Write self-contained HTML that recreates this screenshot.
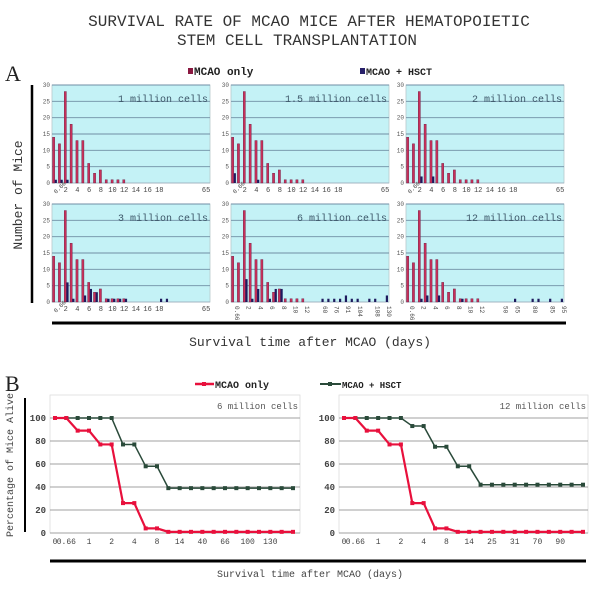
<!DOCTYPE html>
<html><head><meta charset="utf-8">
<style>
body{margin:0;background:#fff;}
svg{display:block;font-family:"Liberation Mono",monospace;}
</style></head>
<body>
<svg id="fig" width="602" height="589" viewBox="0 0 602 589">
<text x="309" y="26" text-anchor="middle" font-size="16" fill="#333">SURVIVAL RATE OF MCAO MICE AFTER HEMATOPOIETIC</text>
<text x="297" y="45" text-anchor="middle" font-size="16" fill="#333">STEM CELL TRANSPLANTATION</text>
<text x="5" y="81" font-size="22" font-family="Liberation Serif,serif" fill="#222">A</text>
<g><rect x="188" y="68" width="5" height="6" fill="#8a1840"/><text x="194" y="75" font-size="11" font-weight="bold" fill="#222">MCAO only</text></g>
<g><rect x="360" y="68" width="5" height="6" fill="#28206a"/><text x="366" y="75" font-size="10" font-weight="bold" fill="#222">MCAO + HSCT</text></g>
<line x1="32" y1="85" x2="32" y2="303" stroke="#000" stroke-width="2.5"/>
<text transform="translate(22,195) rotate(-90)" text-anchor="middle" font-size="13" fill="#333">Number of Mice</text>
<line x1="52" y1="323" x2="566" y2="323" stroke="#000" stroke-width="3"/>
<text x="310" y="346" text-anchor="middle" font-size="13" fill="#333">Survival time after MCAO (days)</text>
<g id="panelsA"></g>

<text x="5" y="391" font-size="22" font-family="Liberation Serif,serif" fill="#222">B</text>
<g><line x1="195" y1="384" x2="214" y2="384" stroke="#e8103c" stroke-width="2.5"/><rect x="202" y="382" width="4" height="4" fill="#e8103c"/><text x="215" y="388" font-size="10" font-weight="bold" fill="#222">MCAO only</text></g>
<g><line x1="320" y1="384" x2="341" y2="384" stroke="#2a4a3a" stroke-width="2"/><rect x="328" y="382" width="4" height="4" fill="#2a4a3a"/><text x="342" y="388" font-size="9" font-weight="bold" fill="#222">MCAO + HSCT</text></g>
<line x1="25" y1="398" x2="25" y2="532" stroke="#000" stroke-width="2"/>
<text transform="translate(13,465) rotate(-90)" text-anchor="middle" font-size="10" fill="#444">Percentage of Mice Alive</text>
<line x1="50" y1="561" x2="586" y2="561" stroke="#000" stroke-width="3"/>
<text x="310" y="577" text-anchor="middle" font-size="10" fill="#444">Survival time after MCAO (days)</text>
<g id="panelsB"></g>
</svg>
<script>
// ---- Panel A data (27 slots each) ----
const mcaoOnly = [14,12,28,18,13,13,6,3,4,1,1,1,1,0,0,0,0,0,0,0,0,0,0,0,0,0,0];
const hsct1M   = [1,1,1,0,0,0,0,0,0,0,0,0,0,0,0,0,0,0,0,0,0,0,0,0,0,0,0];
const hsct15M  = [3,0,0,0,1,0,0,0,0,0,0,0,0,0,0,0,0,0,0,0,0,0,0,0,0,0,0];
const hsct2M   = [0,0,2,0,2,0,0,0,0,0,0,0,0,0,0,0,0,0,0,0,0,0,0,0,0,0,0];
const hsct3M   = [0,0,6,1,0,2,4,3,0,1,1,1,1,0,0,0,0,0,1,1,0,0,0,0,0,0,0];
const red6M    = [14,12,28,18,13,13,6,3,4,1,1,1,1,0,0,0,0,0,0,0,0,0,0,0,0,0,0];
const hsct6M   = [0,0,7,1,4,0,1,4,4,0,0,0,0,0,0,1,1,1,1,2,1,1,0,1,1,0,2];
const hsct12M  = [0,0,1,2,0,2,0,0,0,1,0,0,0,0,0,0,0,0,1,0,0,1,1,0,1,0,1];
const labelsShort = ["0.66","","2","","4","","6","","8","","10","","12","","14","","16","","18","","","","","","","","65"];
const labels6M  = ["0.66","","2","","4","","6","","8","","10","","12","","","60","","76","","91","","104","","","108","","130"];
const labels12M = ["0.66","","2","","4","","6","","8","","10","","12","","","","50","","65","","","80","","","85","","95"];
const yTicksA = [0,5,10,15,20,25,30];
const panelNames = ["1 million cells","1.5 million cells","2 million cells","3 million cells","6 million cells","12 million cells"];

// ---- Panel B data (22 slots) ----
const bLabelsLeft  = ["0","0.66","","1","","2","","4","","8","","14","","40","","66","","100","","130","",""];
const bLabelsRight = ["0","0.66","","1","","2","","4","","8","","14","","25","","31","","70","","90","",""];
const red6Mcurve   = [100,100,89,89,77,77,26,26,4,4,1,1,1,1,1,1,1,1,1,1,1,1];
const green6Mcurve = [100,100,100,100,100,100,77,77,58,58,39,39,39,39,39,39,39,39,39,39,39,39];
const red12Mcurve  = [100,100,89,89,77,77,26,26,4,4,1,1,1,1,1,1,1,1,1,1,1,1];
const green12Mcurve= [100,100,100,100,100,100,93,93,75,75,58,58,42,42,42,42,42,42,42,42,42,42];
const yTicksB = [0,20,40,60,80,100];

const NS="http://www.w3.org/2000/svg";
function mk(tag,attrs,parent){const e=document.createElementNS(NS,tag);for(const k in attrs)e.setAttribute(k,attrs[k]);parent.appendChild(e);return e;}

const panelsA=[
 {x:52,y:85,red:mcaoOnly,blue:hsct1M,labels:labelsShort,rot:false},
 {x:231,y:85,red:mcaoOnly,blue:hsct15M,labels:labelsShort,rot:false},
 {x:406,y:85,red:mcaoOnly,blue:hsct2M,labels:labelsShort,rot:false},
 {x:52,y:204,red:mcaoOnly,blue:hsct3M,labels:labelsShort,rot:false},
 {x:231,y:204,red:red6M,blue:hsct6M,labels:labels6M,rot:true},
 {x:406,y:204,red:mcaoOnly,blue:hsct12M,labels:labels12M,rot:true}
];
const gA=document.getElementById('panelsA');
panelsA.forEach((p,pi)=>{
  const W=158,H=98;
  const g=mk('g',{},gA);
  
  
  const bg=mk('rect',{x:p.x,y:p.y,width:W,height:H,fill:'#c4f2f6',stroke:'#b8c8cc','stroke-width':0.8},g);
  
  
  const yS=v=>p.y+H-v/30*H;
  const xS=i=>p.x+2+i*5.85;
  yTicksA.forEach(t=>{
    if(t>0){const l=mk('line',{x1:p.x,x2:p.x+W,y1:yS(t),y2:yS(t),stroke:'#6f8ea4','stroke-width':0.9},g);
    
    }
    const tx=mk('text',{x:p.x-2,y:yS(t)+2,'text-anchor':'end','font-size':6,fill:'#555'},g);
    tx.textContent=t;
    
    
  });
  mk('line',{x1:p.x,x2:p.x+W,y1:p.y+H,y2:p.y+H,stroke:'#9ab',"stroke-width":0.8},g);
  p.red.forEach((v,i)=>{ if(v>0){
    const r=mk('rect',{x:xS(i)-1.5,y:yS(v),width:2.2,height:yS(0)-yS(v),fill:'#c8305a',stroke:'#6a1a40','stroke-width':0.4},g);
    
    }});
  p.blue.forEach((v,i)=>{ if(v>0){
    const r=mk('rect',{x:xS(i)+0.7,y:yS(v),width:2.2,height:yS(0)-yS(v),fill:'#1e1a5e'},g);
    
    }});
  p.labels.forEach((lb,i)=>{ if(lb){
    let tx;
    if(p.rot){tx=mk('text',{transform:`translate(${xS(i)+2},${p.y+H+4}) rotate(90)`,'font-size':6,fill:'#444'},g);}
    else if(i===0){tx=mk('text',{transform:`translate(${xS(i)+2},${p.y+H+11}) rotate(-45)`,'font-size':6,fill:'#444'},g);}
    else {tx=mk('text',{x:xS(i),y:p.y+H+9,'text-anchor':'middle','font-size':7,fill:'#444'},g);}
    tx.textContent=lb;
    
    }});
  const ttl=mk('text',{x:p.x+W-2,y:p.y+17,'text-anchor':'end','font-size':10,fill:'#3c5668'},g);
  ttl.textContent=panelNames[pi];
  
  
});

const panelsB=[
 {x:50,w:250,p0:55,p1:293,red:red6Mcurve,green:green6Mcurve,labels:bLabelsLeft,title:"6 million cells"},
 {x:339,w:249,p0:344,p1:583,red:red12Mcurve,green:green12Mcurve,labels:bLabelsRight,title:"12 million cells"}
];
const gB=document.getElementById('panelsB');
panelsB.forEach((p,pi)=>{
  const top=395,y0=533,y100=418;
  const g=mk('g',{},gB);
  
  
  mk('rect',{x:p.x,y:top,width:p.w,height:y0-top,fill:'#fff',stroke:'#ddd','stroke-width':0.8},g);
  const yS=v=>y0-(v/100)*(y0-y100);
  const n=p.red.length;
  const xS=i=>p.p0+i*(p.p1-p.p0)/(n-1);
  yTicksB.forEach(t=>{
    const l=mk('line',{x1:p.x,x2:p.x+p.w,y1:yS(t),y2:yS(t),stroke:'#a0a0a0','stroke-width':1},g);
    
    
    const tx=mk('text',{x:p.x-4,y:yS(t)+3,'text-anchor':'end','font-size':9,'font-weight':'bold',fill:'#444'},g);
    tx.textContent=t;
    
    
  });
  p.labels.forEach((lb,i)=>{ if(lb){
    const tx=mk('text',{x:xS(i),y:y0+11,'text-anchor':'middle','font-size':8,fill:'#444'},g);
    tx.textContent=lb;
    
    }});
  [[p.green,'#2a4a3a',1.5,'line-mcao-hsct'],[p.red,'#e8103c',2.2,'line-mcao-only']].forEach(([arr,col,sw,nm])=>{
    const pts=arr.map((v,i)=>xS(i)+','+yS(v)).join(' ');
    const pl=mk('polyline',{points:pts,fill:'none',stroke:col,'stroke-width':sw},g);
    
    
    arr.forEach((v,i)=>{
      const m=mk('rect',{x:xS(i)-2,y:yS(v)-2,width:4,height:4,fill:col},g);
      
      
    });
  });
  const ttl=mk('text',{x:p.x+p.w-2,y:top+14,'text-anchor':'end','font-size':9,fill:'#555'},g);
  ttl.textContent=p.title;
  
  
});
</script>
</body></html>
